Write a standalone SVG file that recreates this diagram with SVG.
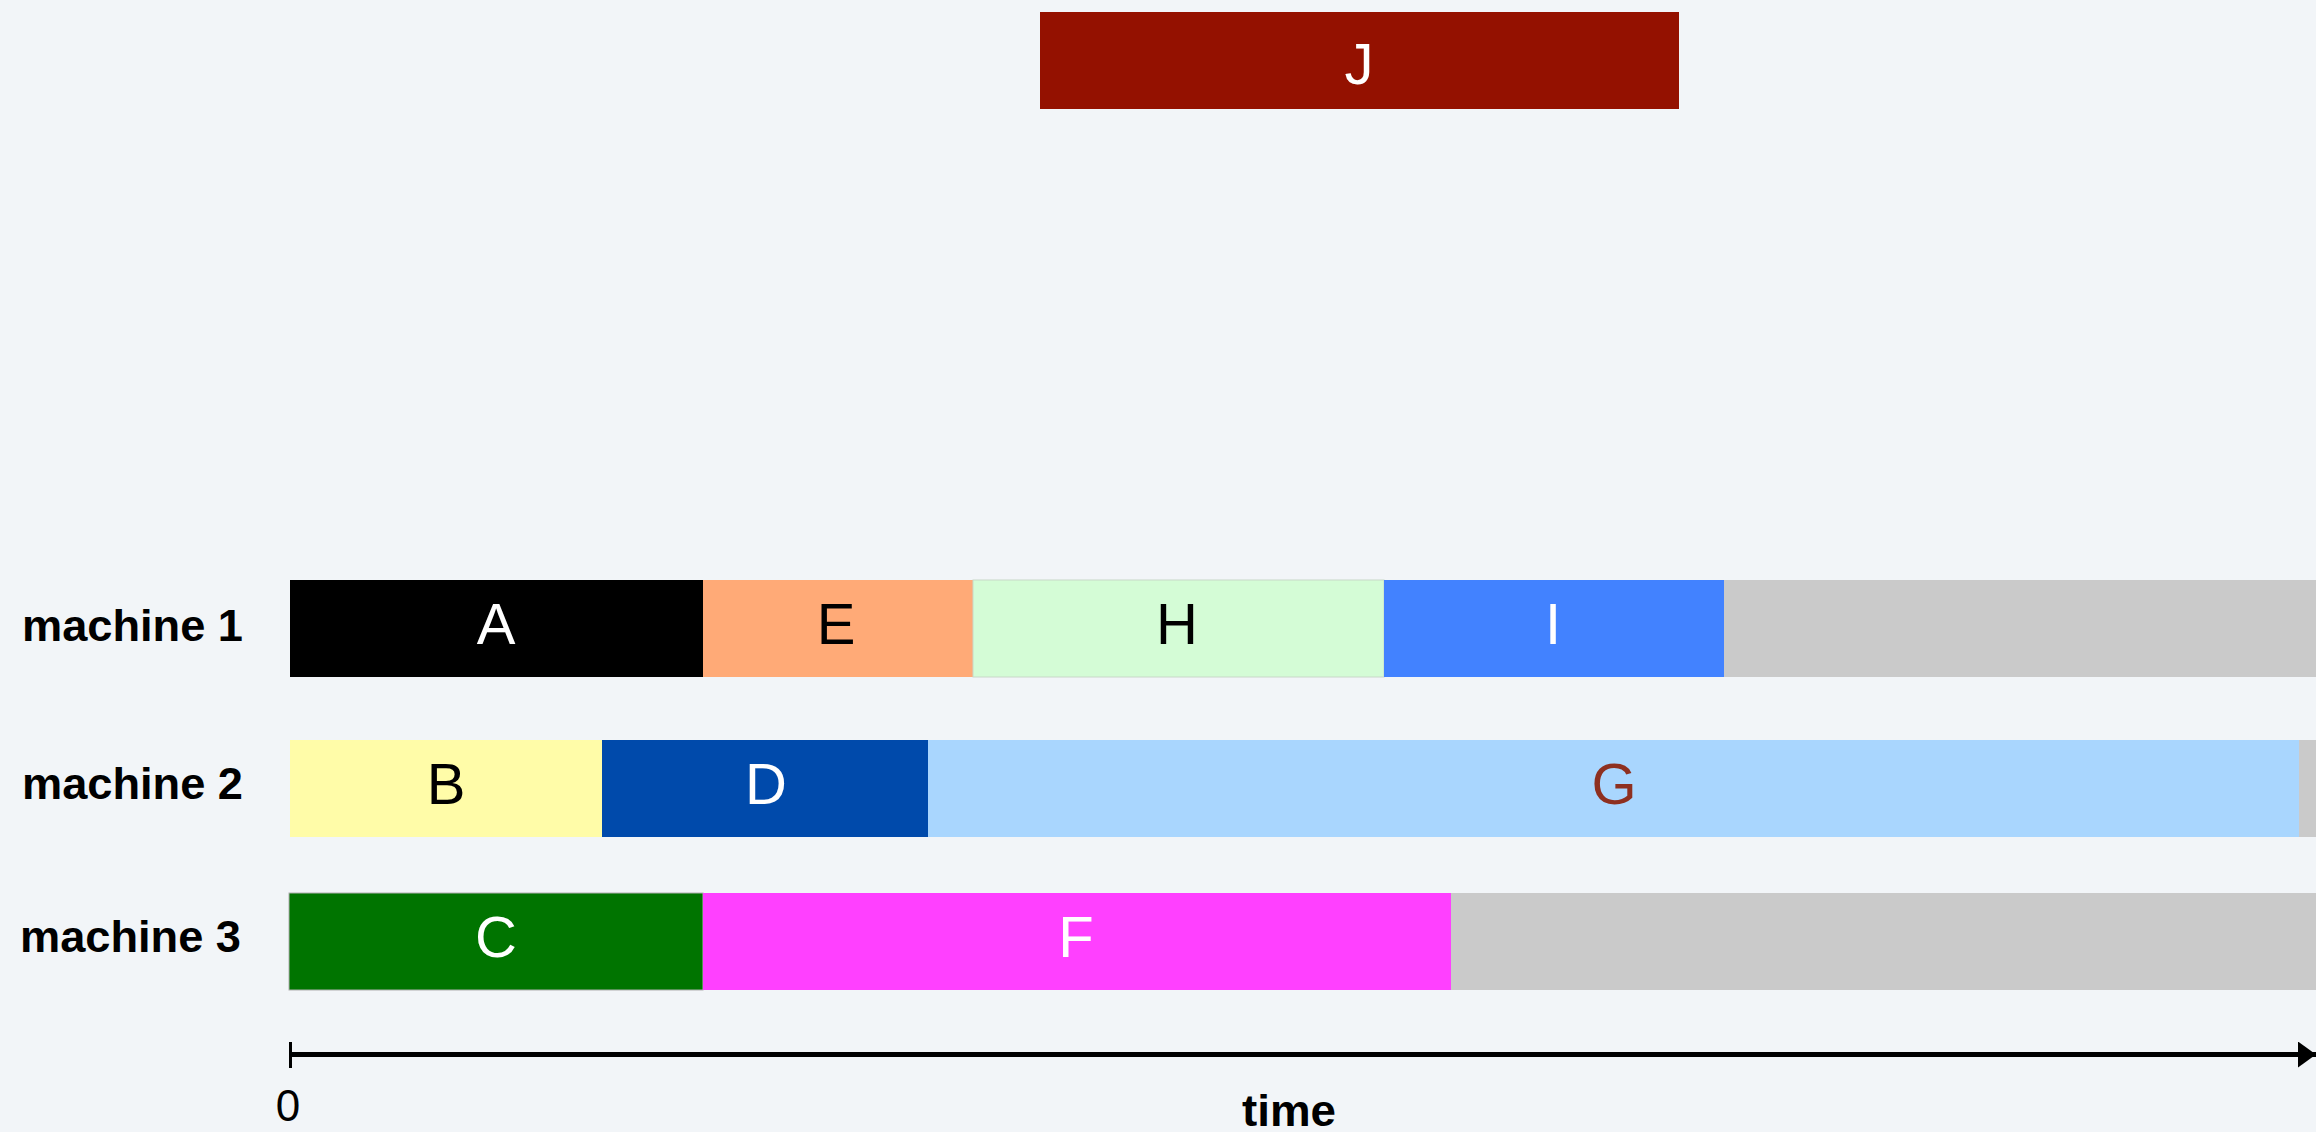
<svg xmlns="http://www.w3.org/2000/svg" width="2316" height="1132" viewBox="0 0 2316 1132">
<defs>
<style>
.lbl{font-family:"Liberation Sans",Arial,sans-serif;font-size:58px;text-anchor:middle}
.mach{font-family:"Liberation Sans",Arial,sans-serif;font-size:44px;font-weight:bold}
.ax{font-family:"Liberation Sans",Arial,sans-serif;font-size:44px;text-anchor:middle}
.w{fill:#ffffff}.k{fill:#000000}
.idle{fill:#cacaca}
</style>
<marker id="arr" markerWidth="18" markerHeight="26" refX="18" refY="13" orient="auto" markerUnits="userSpaceOnUse">
<path d="M0,0 L18,13 L0,26 Z" fill="#000"/>
</marker>
</defs>
<rect x="0" y="0" width="2316" height="1132" fill="#f2f5f8"/>

<g id="labels">
<text class="mach" x="22" y="641" textLength="221" lengthAdjust="spacingAndGlyphs">machine 1</text>
<text class="mach" x="22" y="799" textLength="221" lengthAdjust="spacingAndGlyphs">machine 2</text>
<text class="mach" x="20" y="952" textLength="221" lengthAdjust="spacingAndGlyphs">machine 3</text>
</g>

<g id="idle">
<rect class="idle" x="1723" y="580" width="593" height="97"/>
<rect class="idle" x="2299" y="740" width="17" height="97"/>
<rect class="idle" x="1451" y="893" width="865" height="97"/>
</g>

<g id="J"><rect x="1040" y="12" width="639" height="97" fill="#941100"/><text class="lbl w" x="1359" y="84">J</text></g>

<g id="A"><rect x="290" y="580" width="413" height="97" fill="#000000"/><text class="lbl w" x="496" y="644">A</text></g>
<g id="E"><rect x="703" y="580" width="270" height="97" fill="#ffaa77"/><text class="lbl k" x="836" y="644">E</text></g>
<g id="H"><rect x="973" y="580" width="411" height="97" fill="#d4fcd6" stroke="#c8d8c8" stroke-width="1"/><text class="lbl k" x="1177" y="644">H</text></g>
<g id="I"><rect x="1384" y="580" width="340" height="97" fill="#4282ff"/><text class="lbl w" x="1553" y="644">I</text></g>

<g id="B"><rect x="290" y="740" width="312" height="97" fill="#fffca8"/><text class="lbl k" x="446" y="804">B</text></g>
<g id="D"><rect x="602" y="740" width="326" height="97" fill="#004aab"/><text class="lbl w" x="766" y="804">D</text></g>
<g id="G"><rect x="928" y="740" width="1371" height="97" fill="#a9d6fe"/><text class="lbl" fill="#8e3020" x="1614" y="804">G</text></g>

<g id="C"><rect x="289" y="893" width="414" height="97" fill="#007400" stroke="#b0b0b0" stroke-width="1"/><text class="lbl w" x="496" y="957">C</text></g>
<g id="F"><rect x="703" y="893" width="748" height="97" fill="#ff40ff"/><text class="lbl w" x="1076" y="957">F</text></g>

<g id="connectors">
<line x1="290" y1="1054.5" x2="2316" y2="1054.5" stroke="#000" stroke-width="5" marker-end="url(#arr)"/>
<line x1="290.5" y1="1042" x2="290.5" y2="1068" stroke="#000" stroke-width="3"/>
</g>

<g id="axis">
<text class="ax" x="288" y="1121">0</text>
<text class="ax" x="1289" y="1126" font-weight="bold" textLength="94" lengthAdjust="spacingAndGlyphs">time</text>
</g>
</svg>
